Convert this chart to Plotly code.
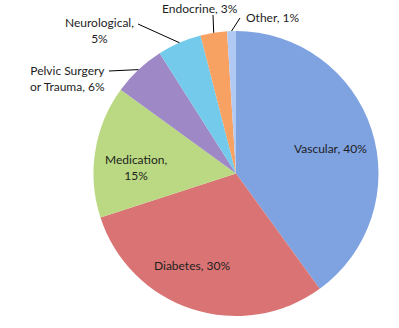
import math
import plotly.graph_objects as go

# ---- data ----
categories = ["Vascular", "Diabetes", "Medication", "Pelvic Surgery or Trauma",
              "Neurological", "Endocrine", "Other"]
values = [40, 30, 15, 6, 5, 3, 1]
label_texts = ["Vascular, 40%", "Diabetes, 30%", "Medication,<br>15%",
               "Pelvic Surgery<br>or Trauma, 6%", "Neurological,<br>5%",
               "Endocrine, 3%", "Other, 1%"]
colors = ["#7FA2E1", "#DA7474", "#BAD982", "#9E89C6", "#74CAEA", "#F7A162", "#B1CAF4"]

W, H = 399, 328
# pie geometry in pixels
CX, CY, R = 236, 173.5, 142.5
inside = [True, True, True, False, False, False, False]

FONT = "Lato, 'Open Sans', sans-serif"
FS = 12
TXT = "#1e1e1e"

fig = go.Figure(go.Pie(
    labels=categories,
    values=values,
    sort=False,
    direction="clockwise",
    rotation=0,
    marker=dict(colors=colors, line=dict(width=0)),
    textinfo="none",
    hoverinfo="label+percent",
    domain=dict(x=[(CX - R) / W, (CX + R) / W], y=[1 - (CY + R) / H, 1 - (CY - R) / H]),
    showlegend=False,
))

# label placement (pixels): text x, text y, xanchor, align, leader start (or None)
label_layout = {
    0: (330, 148, "center", "center", None),
    1: (192, 265, "center", "center", None),
    2: (136, 167, "center", "center", None),
    3: (107, 78, "right", "right", (109, 71)),
    4: (136, 31, "right", "center", (138, 24)),
    5: (200, 8, "center", "center", (213, 15)),
    6: (244, 17, "left", "left", (240, 18)),
}

total = sum(values)
cum = 0
for i, v in enumerate(values):
    mid = (cum + v / 2) / total * 2 * math.pi
    cum += v
    tx, ty, xa, al, lead = label_layout[i]
    fig.add_annotation(
        x=tx / W, y=1 - ty / H, xref="paper", yref="paper",
        text=label_texts[i], showarrow=False, xanchor=xa, yanchor="middle",
        align=al, font=dict(family=FONT, size=FS, color=TXT),
    )
    if lead is not None:
        ex = CX + R * math.sin(mid)
        ey = CY - R * math.cos(mid)
        fig.add_shape(type="line", xref="paper", yref="paper",
                      x0=lead[0] / W, y0=1 - lead[1] / H, x1=ex / W, y1=1 - ey / H,
                      line=dict(color="#000000", width=1))

fig.update_layout(
    width=W, height=H,
    margin=dict(l=0, r=0, t=0, b=0),
    paper_bgcolor="white", plot_bgcolor="white",
)

fig.write_html("out.html")
